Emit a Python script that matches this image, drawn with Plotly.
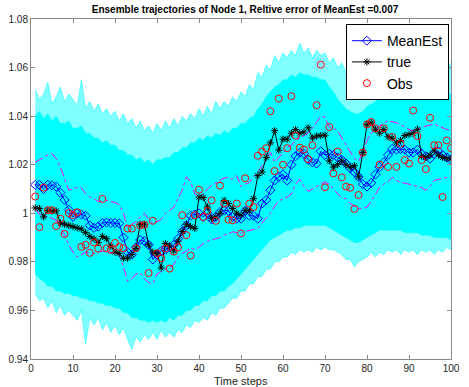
import plotly.graph_objects as go

t = list(range(1, 101))

mean_est = [
    1.0117, 1.0117, 1.0100, 1.0117, 1.0115, 1.0110, 1.0085, 1.0055, 1.0015, 0.9985,
    1.0000, 0.9995, 0.9990, 0.9950, 0.9940, 0.9945, 0.9960, 0.9962, 0.9960, 0.9960,
    0.9958, 0.9900, 0.9840, 0.9830, 0.9860, 0.9890, 0.9885, 0.9870, 0.9810, 0.9830,
    0.9845, 0.9850, 0.9860, 0.9870, 0.9895, 0.9925, 0.9950, 0.9990, 0.9995, 1.0000,
    0.9985, 1.0000, 0.9975, 0.9985, 1.0005, 1.0012, 1.0010, 0.9985, 0.9978, 0.9978,
    1.0010, 0.9990, 0.9990, 0.9978, 1.0040, 1.0055, 1.0095, 1.0135, 1.0150, 1.0160,
    1.0135, 1.0200, 1.0235, 1.0250, 1.0245, 1.0220, 1.0210, 1.0205, 1.0255, 1.0240,
    1.0245, 1.0240, 1.0230, 1.0220, 1.0205, 1.0185, 1.0170, 1.0150, 1.0120, 1.0110,
    1.0125, 1.0160, 1.0190, 1.0210, 1.0240, 1.0265, 1.0262, 1.0265, 1.0262, 1.0250,
    1.0250, 1.0262, 1.0245, 1.0235, 1.0225, 1.0245, 1.0255, 1.0240, 1.0230, 1.0220,
]

true_vals = [
    1.0022, 1.0020, 0.9985, 1.0012, 1.0010, 1.0010, 0.9960, 0.9955, 0.9950, 0.9945,
    0.9940, 0.9935, 0.9920, 0.9905, 0.9895, 0.9880, 0.9905, 0.9895, 0.9865, 0.9840,
    0.9835, 0.9815, 0.9815, 0.9830, 0.9855, 0.9955, 0.9955, 0.9870, 0.9840, 0.9835,
    0.9775, 0.9875, 0.9865, 0.9845, 0.9885, 0.9925, 0.9955, 0.9945, 0.9938, 1.0067,
    1.0065, 1.0026, 0.9978, 0.9985, 1.0000, 1.0053, 1.0040, 1.0020, 1.0000, 0.9992,
    1.0012, 1.0010, 1.0060, 1.0155, 1.0170, 1.0230, 1.0290, 1.0340, 1.0260, 1.0305,
    1.0305, 1.0330, 1.0345, 1.0330, 1.0335, 1.0352, 1.0310, 1.0318, 1.0320, 1.0322,
    1.0216, 1.0190, 1.0200, 1.0216, 1.0200, 1.0190, 1.0196, 1.0150, 1.0250, 1.0366,
    1.0373, 1.0346, 1.0330, 1.0345, 1.0315, 1.0310, 1.0290, 1.0300, 1.0320, 1.0325,
    1.0330, 1.0346, 1.0235, 1.0230, 1.0240, 1.0257, 1.0240, 1.0230, 1.0225, 1.0225,
]

obs = [
    1.0069, 0.9943, 1.0106, 1.0013, 1.0013, 0.9947, 0.9978, 0.9915, 1.0001, 0.9993,
    1.0004, 0.9862, 0.9870, 0.9837, 0.9880, 0.9855, 1.0059, 0.9856, 0.9849, 0.9878,
    0.9862, 0.9856, 0.9937, 0.9937, 0.9856, 0.9950, 0.9952, 0.9754, 0.9969, 0.9835,
    0.9815, 0.9855, 0.9772, 0.9842, 0.9860, 0.9992, 0.9910, 0.9826, 0.9992, 1.0097,
    0.9985, 1.0010, 1.0053, 0.9969, 1.0114, 1.0040, 0.9974, 0.9971, 1.0040, 0.9917,
    1.0144, 1.0040, 1.0026, 1.0237, 1.0254, 1.0268, 1.0420, 1.0174, 1.0472, 1.0200,
    1.0268, 1.0482, 1.0320, 1.0270, 1.0262, 1.0223, 1.0280, 1.0445, 1.0612, 1.0107,
    1.0355, 1.0164, 1.0254, 1.0148, 1.0110, 1.0105, 1.0018, 1.0075, 1.0250, 1.0366,
    1.0376, 1.0350, 1.0200, 1.0350, 1.0191, 1.0314, 1.0191, 1.0287, 1.0219, 1.0205,
    1.0423, 1.0318, 1.0219, 1.0182, 1.0393, 1.0280, 1.0280, 1.0067, 1.0300, 1.0268,
]

upper_bound = [
    1.0210, 1.0220, 1.0232, 1.0240, 1.0246, 1.0225, 1.0190, 1.0140, 1.0095, 1.0100,
    1.0107, 1.0105, 1.0080, 1.0067, 1.0060, 1.0048, 1.0050, 1.0053, 1.0048, 1.0045,
    1.0035, 1.0000, 0.9940, 0.9955, 0.9965, 0.9985, 1.0000, 0.9975, 0.9960, 0.9965,
    0.9975, 1.0000, 1.0012, 1.0025, 1.0060, 1.0094, 1.0150, 1.0130, 1.0080, 1.0067,
    1.0080, 1.0100, 1.0115, 1.0125, 1.0135, 1.0145, 1.0148, 1.0140, 1.0155, 1.0110,
    1.0120, 1.0127, 1.0150, 1.0170, 1.0195, 1.0220, 1.0250, 1.0210, 1.0230, 1.0250,
    1.0270, 1.0280, 1.0300, 1.0310, 1.0320, 1.0330, 1.0350, 1.0375, 1.0400, 1.0395,
    1.0355, 1.0350, 1.0340, 1.0310, 1.0280, 1.0250, 1.0225, 1.0215, 1.0250, 1.0300,
    1.0330, 1.0345, 1.0360, 1.0373, 1.0380, 1.0378, 1.0373, 1.0365, 1.0355, 1.0345,
    1.0340, 1.0345, 1.0355, 1.0360, 1.0365, 1.0367, 1.0360, 1.0352, 1.0345, 1.0340,
]

lower_bound = [
    1.0020, 0.9995, 0.9990, 0.9985, 0.9980, 0.9970, 0.9940, 0.9910, 0.9870, 0.9840,
    0.9820, 0.9830, 0.9840, 0.9835, 0.9835, 0.9840, 0.9845, 0.9842, 0.9840, 0.9835,
    0.9830, 0.9780, 0.9720, 0.9730, 0.9750, 0.9755, 0.9730, 0.9715, 0.9710, 0.9750,
    0.9760, 0.9770, 0.9775, 0.9790, 0.9820, 0.9835, 0.9845, 0.9857, 0.9850, 0.9860,
    0.9876, 0.9885, 0.9890, 0.9895, 0.9900, 0.9910, 0.9915, 0.9924, 0.9920, 0.9917,
    0.9925, 0.9930, 0.9935, 0.9938, 0.9960, 0.9980, 1.0000, 1.0030, 1.0050, 1.0060,
    1.0067, 1.0080, 1.0120, 1.0140, 1.0110, 1.0090, 1.0100, 1.0110, 1.0120, 1.0130,
    1.0120, 1.0100, 1.0080, 1.0065, 1.0060, 1.0040, 1.0030, 1.0020, 1.0020, 1.0025,
    1.0050, 1.0080, 1.0107, 1.0120, 1.0130, 1.0148, 1.0135, 1.0128, 1.0125, 1.0120,
    1.0115, 1.0110, 1.0105, 1.0095, 1.0110, 1.0135, 1.0140, 1.0145, 1.0148, 1.0148,
]

ens_core_hi = [
    1.040, 1.042, 1.039, 1.041, 1.038, 1.040, 1.037, 1.037, 1.038, 1.035,
    1.035, 1.036, 1.033, 1.033, 1.031, 1.031, 1.029, 1.030, 1.028, 1.028,
    1.026, 1.026, 1.024, 1.024, 1.022, 1.023, 1.021, 1.022, 1.020, 1.022,
    1.022, 1.023, 1.023, 1.025, 1.025, 1.027, 1.027, 1.029, 1.029, 1.031,
    1.030, 1.032, 1.031, 1.033, 1.032, 1.034, 1.033, 1.035, 1.035, 1.037,
    1.037, 1.039, 1.040, 1.043, 1.045, 1.048, 1.050, 1.052, 1.053, 1.055,
    1.055, 1.057, 1.056, 1.058, 1.057, 1.057, 1.056, 1.056, 1.055, 1.055,
    1.052, 1.050, 1.047, 1.045, 1.043, 1.042, 1.041, 1.041, 1.042, 1.044,
    1.045, 1.046, 1.047, 1.048, 1.048, 1.049, 1.049, 1.050, 1.049, 1.050,
    1.049, 1.050, 1.049, 1.050, 1.049, 1.051, 1.049, 1.050, 1.049, 1.049,
]

ens_core_lo = [
    0.975, 0.973, 0.972, 0.970, 0.970, 0.968, 0.968, 0.967, 0.967, 0.966,
    0.966, 0.965, 0.965, 0.964, 0.964, 0.963, 0.963, 0.962, 0.962, 0.961,
    0.961, 0.959, 0.959, 0.957, 0.957, 0.956, 0.956, 0.955, 0.956, 0.955,
    0.956, 0.955, 0.957, 0.956, 0.958, 0.958, 0.960, 0.960, 0.962, 0.962,
    0.964, 0.964, 0.966, 0.966, 0.968, 0.968, 0.970, 0.971, 0.973, 0.975,
    0.977, 0.979, 0.981, 0.983, 0.985, 0.987, 0.989, 0.990, 0.991, 0.992,
    0.993, 0.993, 0.994, 0.994, 0.995, 0.995, 0.995, 0.995, 0.995, 0.995,
    0.994, 0.993, 0.992, 0.991, 0.990, 0.989, 0.988, 0.988, 0.989, 0.990,
    0.991, 0.992, 0.993, 0.993, 0.993, 0.993, 0.993, 0.993, 0.992, 0.992,
    0.992, 0.992, 0.991, 0.991, 0.991, 0.990, 0.990, 0.990, 0.990, 0.989,
]

ens_spike_hi = [
    1.051, 1.047, 1.049, 1.054, 1.045, 1.048, 1.052, 1.046, 1.049, 1.047,
    1.044, 1.055, 1.043, 1.046, 1.042, 1.045, 1.041, 1.043, 1.040, 1.042,
    1.038, 1.041, 1.037, 1.039, 1.035, 1.038, 1.034, 1.036, 1.033, 1.037,
    1.034, 1.038, 1.035, 1.039, 1.036, 1.040, 1.038, 1.041, 1.039, 1.043,
    1.040, 1.044, 1.041, 1.046, 1.043, 1.046, 1.044, 1.048, 1.046, 1.050,
    1.048, 1.053, 1.051, 1.058, 1.056, 1.061, 1.059, 1.065, 1.062, 1.066,
    1.064, 1.067, 1.065, 1.070, 1.066, 1.068, 1.064, 1.067, 1.065, 1.066,
    1.062, 1.064, 1.060, 1.062, 1.058, 1.060, 1.057, 1.060, 1.059, 1.062,
    1.060, 1.063, 1.061, 1.063, 1.060, 1.064, 1.062, 1.063, 1.061, 1.062,
    1.060, 1.063, 1.061, 1.062, 1.060, 1.066, 1.061, 1.063, 1.059, 1.062,
]

ens_spike_lo = [
    0.967, 0.964, 0.965, 0.961, 0.964, 0.959, 0.962, 0.958, 0.960, 0.958,
    0.956, 0.960, 0.946, 0.957, 0.954, 0.957, 0.952, 0.955, 0.951, 0.954,
    0.950, 0.953, 0.948, 0.944, 0.949, 0.947, 0.950, 0.948, 0.951, 0.948,
    0.952, 0.949, 0.951, 0.949, 0.952, 0.951, 0.954, 0.953, 0.956, 0.955,
    0.957, 0.956, 0.959, 0.958, 0.961, 0.961, 0.963, 0.965, 0.965, 0.968,
    0.968, 0.971, 0.971, 0.974, 0.974, 0.977, 0.977, 0.980, 0.980, 0.982,
    0.982, 0.984, 0.983, 0.985, 0.984, 0.985, 0.984, 0.986, 0.985, 0.986,
    0.985, 0.985, 0.984, 0.983, 0.981, 0.981, 0.978, 0.980, 0.981, 0.982,
    0.984, 0.982, 0.984, 0.983, 0.985, 0.984, 0.985, 0.983, 0.985, 0.984,
    0.985, 0.983, 0.985, 0.984, 0.985, 0.983, 0.985, 0.984, 0.986, 0.985,
]

x_ticks = [0, 10, 20, 30, 40, 50, 60, 70, 80, 90, 100]
y_ticks = [0.94, 0.96, 0.98, 1.00, 1.02, 1.04, 1.06, 1.08]
y_tick_text = ["0.94", "0.96", "0.98", "1", "1.02", "1.04", "1.06", "1.08"]

title_text = "Ensemble trajectories of Node 1, Reltive error of MeanEst =0.007"
x_title = "Time steps"

CYAN = "#00ffff"
FONT = "Liberation Sans, Arial, sans-serif"

fig = go.Figure()

# ensemble spread: light outer envelope then solid core
fig.add_trace(go.Scatter(x=t, y=ens_spike_lo, mode="lines",
                         line=dict(color="rgba(0,255,255,0.75)", width=0.7),
                         showlegend=False, hoverinfo="skip"))
fig.add_trace(go.Scatter(x=t, y=ens_spike_hi, mode="lines",
                         line=dict(color="rgba(0,255,255,0.75)", width=0.7),
                         fill="tonexty", fillcolor="rgba(0,255,255,0.5)",
                         showlegend=False, hoverinfo="skip"))
fig.add_trace(go.Scatter(x=t, y=ens_core_lo, mode="lines",
                         line=dict(color=CYAN, width=0.5),
                         showlegend=False, hoverinfo="skip"))
fig.add_trace(go.Scatter(x=t, y=ens_core_hi, mode="lines",
                         line=dict(color=CYAN, width=0.5),
                         fill="tonexty", fillcolor=CYAN,
                         showlegend=False, hoverinfo="skip"))

# bounds
fig.add_trace(go.Scatter(x=t, y=upper_bound, mode="lines",
                         line=dict(color="#ff00ff", width=1, dash="dashdot"),
                         showlegend=False))
fig.add_trace(go.Scatter(x=t, y=lower_bound, mode="lines",
                         line=dict(color="#ff00ff", width=1, dash="dashdot"),
                         showlegend=False))

fig.add_trace(go.Scatter(x=t, y=mean_est, mode="lines+markers", name="MeanEst",
                         line=dict(color="#0000ff", width=1),
                         marker=dict(symbol="diamond-open", size=7,
                                     color="#0000ff", line=dict(width=1, color="#0000ff"))))
fig.add_trace(go.Scatter(x=t, y=true_vals, mode="lines+markers", name="true",
                         line=dict(color="#000000", width=1),
                         marker=dict(symbol="asterisk-open", size=6,
                                     color="#000000", line=dict(width=1, color="#000000"))))
fig.add_trace(go.Scatter(x=t, y=obs, mode="markers", name="Obs",
                         marker=dict(symbol="circle-open", size=7,
                                     color="#ff0000", line=dict(width=1, color="#ff0000"))))

axis_common = dict(
    showgrid=False, zeroline=False,
    showline=True, linecolor="#8a8a8a", linewidth=1, mirror="ticks",
    ticks="inside", ticklen=4, tickcolor="#8a8a8a", tickwidth=1,
    tickfont=dict(family=FONT, size=10, color="#262626"),
)

fig.update_layout(
    width=469, height=387,
    margin=dict(l=30, r=9, t=19, b=28),
    paper_bgcolor="white", plot_bgcolor="white",
    title=dict(text="<b>" + title_text + "</b>",
               x=0.5225, xanchor="center", y=0.975, yanchor="middle",
               font=dict(family=FONT, size=10, color="#000000")),
    xaxis=dict(range=[0, 100], tickvals=x_ticks, **axis_common),
    yaxis=dict(range=[0.94, 1.08], tickvals=y_ticks, ticktext=y_tick_text,
               **axis_common),
    legend=dict(x=0.995, xanchor="right", y=0.985, yanchor="top",
                traceorder="normal",
                bgcolor="white", bordercolor="#000000", borderwidth=1,
                font=dict(family=FONT, size=14, color="#000000"),
                tracegroupgap=0, itemwidth=30),
    showlegend=True,
    annotations=[dict(text=x_title, xref="paper", yref="paper", x=0.5, y=0,
                      xanchor="center", yanchor="middle", yshift=-22,
                      showarrow=False,
                      font=dict(family=FONT, size=11, color="#262626"))],
)

fig.write_html("out.html")
